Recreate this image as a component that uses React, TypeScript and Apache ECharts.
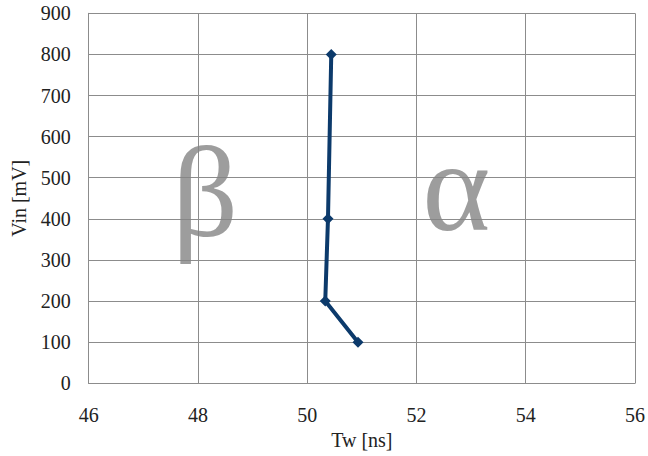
import React, { useEffect, useRef } from "react";
import * as echarts from "echarts";

const vinValues = [100, 200, 400, 800];
const twValues = [50.93, 50.33, 50.38, 50.44];
const xTicks = { min: 46, max: 56, interval: 2 };
const yTicks = { min: 0, max: 900, interval: 100 };
const regionLabels = [
  { text: "β", tw: 48.13, vin: 466 },
  { text: "α", tw: 52.73, vin: 479 },
];

export default function App() {
  const ref = useRef<HTMLDivElement>(null);
  useEffect(() => {
    if (!ref.current) return;
    const chart = echarts.init(ref.current, null, { renderer: "svg" });
    const font = "Liberation Serif";
    chart.setOption({
      animation: false,
      backgroundColor: "#ffffff",
      textStyle: { fontFamily: font },
      grid: { left: 88.7, right: 12, top: 13.3, bottom: 72.7 },
      xAxis: {
        type: "value",
        min: xTicks.min,
        max: xTicks.max,
        interval: xTicks.interval,
        name: "Tw [ns]",
        nameLocation: "middle",
        nameGap: 44,
        nameTextStyle: { fontFamily: font, fontSize: 20, color: "#222" },
        axisLine: { show: true, lineStyle: { color: "#8c8c8c", width: 1 } },
        axisTick: { show: false },
        axisLabel: { fontFamily: font, fontSize: 20, color: "#222", margin: 22 },
        splitLine: { show: true, lineStyle: { color: "#8c8c8c", width: 1 } },
      },
      yAxis: {
        type: "value",
        min: yTicks.min,
        max: yTicks.max,
        interval: yTicks.interval,
        name: "Vin [mV]",
        nameLocation: "middle",
        nameGap: 60,
        nameTextStyle: { fontFamily: font, fontSize: 20, color: "#222" },
        axisLine: { show: true, lineStyle: { color: "#8c8c8c", width: 1 } },
        axisTick: { show: false },
        axisLabel: { fontFamily: font, fontSize: 20, color: "#222", margin: 18 },
        splitLine: { show: true, lineStyle: { color: "#8c8c8c", width: 1 } },
      },
      series: [
        {
          type: "line",
          data: vinValues.map((v, i) => [twValues[i], v]),
          lineStyle: { color: "#0c3a6b", width: 4 },
          itemStyle: { color: "#0c3a6b" },
          symbol: "diamond",
          symbolSize: 11,
          showSymbol: true,
        },
        {
          type: "scatter",
          data: regionLabels.map((r) => [r.tw, r.vin]),
          symbolSize: 0,
          silent: true,
          label: {
            show: true,
            position: "inside",
            formatter: (p: any) => regionLabels[p.dataIndex].text,
            fontFamily: font,
            fontSize: 130,
            color: "#858585",
          },
        },
      ],
    });
    return () => chart.dispose();
  }, []);
  return (
    <div
      ref={ref}
      style={{ position: "absolute", left: 0, top: 0, width: 648, height: 456 }}
    />
  );
}
